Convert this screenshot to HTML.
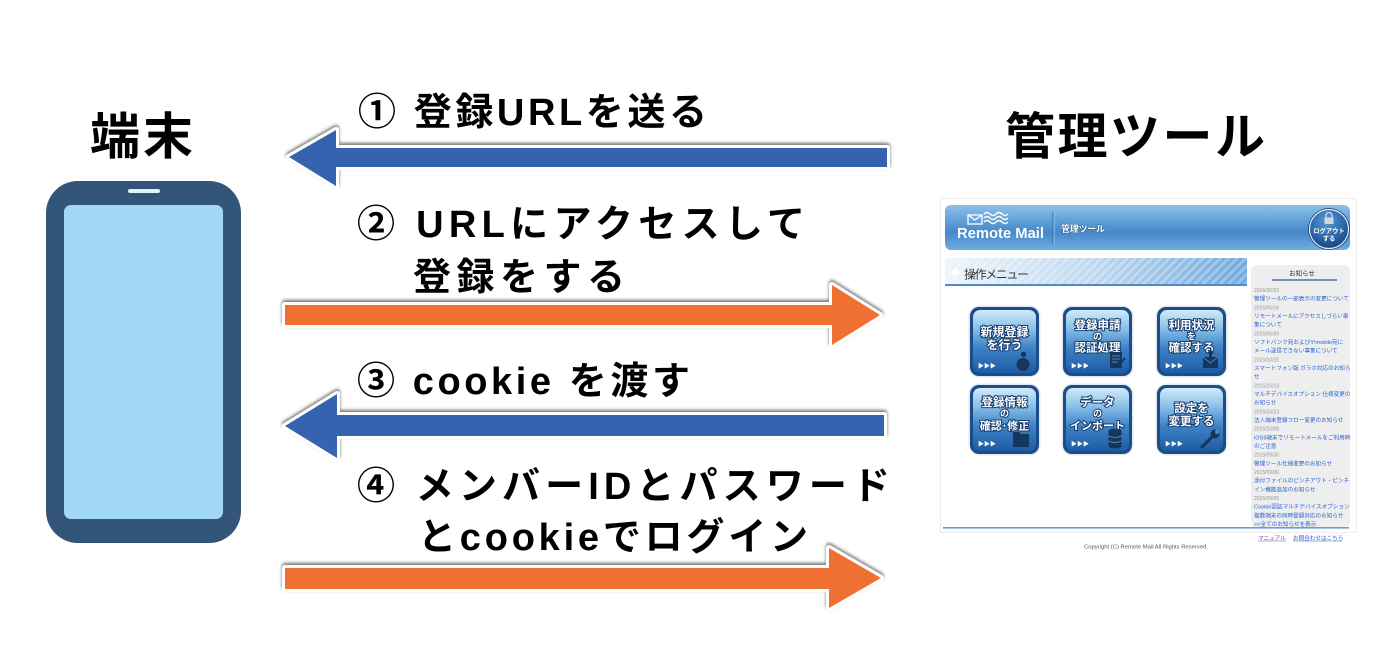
<!DOCTYPE html>
<html><head><meta charset="utf-8">
<style>
html,body{margin:0;padding:0;background:#fff;}
body{width:1386px;height:658px;overflow:hidden;}
svg{display:block;}
.lbl{font-family:"Liberation Sans","Noto Sans CJK JP",sans-serif;font-weight:700;font-size:38px;fill:#000;}
.big{font-family:"Liberation Sans","Noto Sans CJK JP",sans-serif;font-weight:700;font-size:50px;fill:#000;}
.bt{font-family:"Liberation Sans","Noto Sans CJK JP",sans-serif;font-weight:700;fill:#fff;stroke:#163c6e;stroke-width:2;paint-order:stroke;text-anchor:middle;}
.sm{font-family:"Liberation Sans","Noto Sans CJK JP",sans-serif;}
.dt{font-family:"Liberation Sans",sans-serif;font-size:5px;fill:#959595;}
.lk{font-family:"Liberation Sans","Noto Sans CJK JP",sans-serif;font-size:5.6px;fill:#2a64d0;}
</style></head>
<body>
<svg width="1386" height="658" viewBox="0 0 1386 658" xmlns="http://www.w3.org/2000/svg">
<defs>
  <filter id="sh" x="-5%" y="-40%" width="110%" height="180%">
    <feDropShadow dx="0" dy="-2" stdDeviation="1.5" flood-color="#000" flood-opacity="0.55"/>
  </filter>
  <linearGradient id="hdr" x1="0" y1="0" x2="0" y2="1">
    <stop offset="0" stop-color="#8cc2ea"/>
    <stop offset="0.45" stop-color="#5597d2"/>
    <stop offset="0.6" stop-color="#4687c7"/>
    <stop offset="1" stop-color="#6eaee0"/>
  </linearGradient>
  <linearGradient id="menu" x1="0" y1="0" x2="1" y2="0">
    <stop offset="0" stop-color="#eef5fb"/>
    <stop offset="0.5" stop-color="#bcd7ef"/>
    <stop offset="1" stop-color="#6fa8dc"/>
  </linearGradient>
  <pattern id="stripes" width="6" height="6" patternUnits="userSpaceOnUse" patternTransform="rotate(45)">
    <rect x="0" y="0" width="3" height="6" fill="#ffffff" fill-opacity="0.28"/>
  </pattern>
  <linearGradient id="btn" x1="0" y1="0" x2="0" y2="1">
    <stop offset="0" stop-color="#d2ebf9"/>
    <stop offset="0.3" stop-color="#86bfe8"/>
    <stop offset="0.6" stop-color="#3f82c5"/>
    <stop offset="1" stop-color="#1d5ca4"/>
  </linearGradient>
  <radialGradient id="lo" cx="0.45" cy="0.3" r="0.75">
    <stop offset="0" stop-color="#5b9ad6"/>
    <stop offset="0.6" stop-color="#2a66a8"/>
    <stop offset="1" stop-color="#123f78"/>
  </radialGradient>
</defs>

<!-- Phone -->
<rect x="46" y="181" width="195" height="362" rx="32" fill="#33557a"/>
<rect x="64" y="205" width="159" height="314" rx="7" fill="#a0d8f5"/>
<rect x="128" y="189" width="32" height="4" rx="2" fill="#e2f1fa"/>

<!-- Big titles -->
<text class="big" x="90" y="154" textLength="103" lengthAdjust="spacing">端末</text>
<text class="big" x="1005" y="154" textLength="260" lengthAdjust="spacing">管理ツール</text>

<!-- Arrows -->
<g filter="url(#sh)" stroke="#ffffff" stroke-width="6" stroke-linejoin="round" style="paint-order:stroke">
  <polygon fill="#3464af" points="289,157 336,130 336,148 887,148 887,167 336,167 336,186"/>
  <polygon fill="#f07032" points="285,305 832,305 832,285 880,315 832,345 832,325 285,325"/>
  <polygon fill="#3464af" points="285,426 337,394 337,415 884,415 884,436 337,436 337,458"/>
  <polygon fill="#f07032" points="285,568 829,568 829,548 881,578 829,608 829,589 285,589"/>
</g>

<!-- Labels -->
<text class="lbl" x="358" y="125" textLength="349" lengthAdjust="spacing">① 登録URLを送る</text>
<text class="lbl" x="357" y="237" textLength="448" lengthAdjust="spacing">② URLにアクセスして</text>
<text class="lbl" x="413" y="290" textLength="212" lengthAdjust="spacing">登録をする</text>
<text class="lbl" x="357" y="394" textLength="333" lengthAdjust="spacing">③ cookie を渡す</text>
<text class="lbl" x="357" y="499" textLength="533" lengthAdjust="spacing">④ メンバーIDとパスワード</text>
<text class="lbl" x="418" y="550" textLength="390" lengthAdjust="spacing">とcookieでログイン</text>

<!-- ===== Right screenshot panel ===== -->
<rect x="940.5" y="198.5" width="416" height="334" fill="#ffffff" stroke="#ececec" stroke-width="1"/>

<!-- Header -->
<rect x="945" y="205" width="405" height="45" rx="6" fill="url(#hdr)"/>
<g stroke="#ffffff" stroke-width="1.3" fill="none">
  <rect x="968" y="215" width="14" height="9"/>
  <polyline points="968,215 975,220 982,215"/>
  <path d="M984 214 q3 -3 6 0 t6 0 t6 0 t6 0"/>
  <path d="M984 218 q3 -3 6 0 t6 0 t6 0 t6 0"/>
  <path d="M984 222 q3 -3 6 0 t6 0 t6 0 t6 0"/>
</g>
<text class="sm" x="957" y="238" font-size="15" font-weight="700" fill="#ffffff" textLength="87" lengthAdjust="spacingAndGlyphs">Remote Mail</text>
<line x1="1053" y1="212" x2="1053" y2="244" stroke="#2d679f" stroke-width="1"/>
<line x1="1054" y1="212" x2="1054" y2="244" stroke="#9cc8ec" stroke-width="1"/>
<text class="sm" x="1061" y="232" font-size="9" font-weight="700" fill="#ffffff" stroke="#1f4f86" stroke-width="0.8" style="paint-order:stroke" textLength="44" lengthAdjust="spacing">管理ツール</text>
<circle cx="1329" cy="229" r="21" fill="#1a4a86"/>
<circle cx="1329" cy="229" r="19.5" fill="url(#lo)" stroke="#dfeaf5" stroke-width="1.2"/>
<path d="M1326 218 v-2.5 a3 3 0 0 1 6 0 v2.5" fill="none" stroke="#cfd9e4" stroke-width="1.3"/>
<rect x="1324.5" y="217.5" width="9" height="6.5" rx="1" fill="#cfd9e4"/>
<text class="sm" x="1329" y="233" font-size="6.3" font-weight="700" fill="#ffffff" text-anchor="middle">ログアウト</text>
<text class="sm" x="1329" y="240.5" font-size="6.3" font-weight="700" fill="#ffffff" text-anchor="middle">する</text>

<!-- Menu bar -->
<rect x="945" y="258" width="302" height="28" fill="url(#menu)"/>
<rect x="945" y="258" width="302" height="28" fill="url(#stripes)"/>
<rect x="945" y="284" width="302" height="2" fill="#4e8bc8"/>
<polygon points="951,272 955.5,267.5 960,272 955.5,276.5" fill="#ffffff"/>
<text class="sm" x="964" y="278.5" font-size="12" fill="#333333" textLength="65" lengthAdjust="spacing">操作メニュー</text>

<!-- Buttons -->
<g>
  <!-- B1 -->
  <rect x="968.5" y="305.5" width="72" height="72" rx="11" fill="#e3e9ef"/>
  <rect x="970" y="307" width="69" height="69" rx="9" fill="#1b4c8c"/>
  <rect x="973" y="310" width="63" height="63" rx="7" fill="url(#btn)"/>
  <text class="bt" x="1004.5" y="336" font-size="12">新規登録</text>
  <text class="bt" x="1004.5" y="349" font-size="12">を行う</text>
  <text class="sm" x="978" y="368" font-size="6" fill="#ffffff">▶▶▶</text>
  <circle cx="1023.5" cy="354.5" r="2.7" fill="#15365f"/>
  <ellipse cx="1023" cy="364.5" rx="6.5" ry="6.5" fill="#15365f"/>

  <!-- B2 -->
  <rect x="1061.5" y="305.5" width="72" height="72" rx="11" fill="#e3e9ef"/>
  <rect x="1063" y="307" width="69" height="69" rx="9" fill="#1b4c8c"/>
  <rect x="1066" y="310" width="63" height="63" rx="7" fill="url(#btn)"/>
  <text class="bt" x="1097.5" y="329" font-size="11.5">登録申請</text>
  <text class="bt" x="1097.5" y="339.5" font-size="9">の</text>
  <text class="bt" x="1097.5" y="351.5" font-size="11.5">認証処理</text>
  <text class="sm" x="1071" y="368" font-size="6" fill="#ffffff">▶▶▶</text>
  <rect x="1110" y="352" width="12" height="16" fill="#15365f"/>
  <g stroke="#6f95bf" stroke-width="0.8"><line x1="1112" y1="356" x2="1120" y2="356"/><line x1="1112" y1="359" x2="1120" y2="359"/><line x1="1112" y1="362" x2="1118" y2="362"/></g>
  <line x1="1117" y1="368" x2="1125" y2="358" stroke="#15365f" stroke-width="2"/>

  <!-- B3 -->
  <rect x="1155.5" y="305.5" width="72" height="72" rx="11" fill="#e3e9ef"/>
  <rect x="1157" y="307" width="69" height="69" rx="9" fill="#1b4c8c"/>
  <rect x="1160" y="310" width="63" height="63" rx="7" fill="url(#btn)"/>
  <text class="bt" x="1191.5" y="329" font-size="11.5">利用状況</text>
  <text class="bt" x="1191.5" y="339.5" font-size="9">を</text>
  <text class="bt" x="1191.5" y="351.5" font-size="11.5">確認する</text>
  <text class="sm" x="1165" y="368" font-size="6" fill="#ffffff">▶▶▶</text>
  <rect x="1203" y="357" width="15" height="11" fill="#15365f"/>
  <polyline points="1203,357 1210.5,363 1218,357" fill="none" stroke="#6f95bf" stroke-width="0.8"/>
  <polygon points="1210.5,349 1214,353.5 1212,353.5 1212,358 1209,358 1209,353.5 1207,353.5" fill="#15365f"/>

  <!-- B4 -->
  <rect x="968.5" y="383.5" width="72" height="72" rx="11" fill="#e3e9ef"/>
  <rect x="970" y="385" width="69" height="69" rx="9" fill="#1b4c8c"/>
  <rect x="973" y="388" width="63" height="63" rx="7" fill="url(#btn)"/>
  <text class="bt" x="1004.5" y="406" font-size="11.5">登録情報</text>
  <text class="bt" x="1004.5" y="416.5" font-size="9">の</text>
  <text class="bt" x="1004.5" y="429.5" font-size="11">確認･修正</text>
  <text class="sm" x="978" y="446" font-size="6" fill="#ffffff">▶▶▶</text>
  <path d="M1013 432 h6 l2 2 h8 v13 h-16 z" fill="#15365f"/>

  <!-- B5 -->
  <rect x="1061.5" y="383.5" width="72" height="72" rx="11" fill="#e3e9ef"/>
  <rect x="1063" y="385" width="69" height="69" rx="9" fill="#1b4c8c"/>
  <rect x="1066" y="388" width="63" height="63" rx="7" fill="url(#btn)"/>
  <text class="bt" x="1097.5" y="406" font-size="11.5">データ</text>
  <text class="bt" x="1097.5" y="416.5" font-size="9">の</text>
  <text class="bt" x="1097.5" y="429.5" font-size="11">インポート</text>
  <text class="sm" x="1071" y="446" font-size="6" fill="#ffffff">▶▶▶</text>
  <g fill="#15365f">
    <ellipse cx="1115" cy="431" rx="6.5" ry="2.5"/>
    <rect x="1108.5" y="431" width="13" height="15"/>
    <ellipse cx="1115" cy="446" rx="6.5" ry="2.5"/>
  </g>
  <g stroke="#6f95bf" stroke-width="0.8" fill="none"><path d="M1108.5 436 q6.5 3 13 0"/><path d="M1108.5 441 q6.5 3 13 0"/></g>

  <!-- B6 -->
  <rect x="1155.5" y="383.5" width="72" height="72" rx="11" fill="#e3e9ef"/>
  <rect x="1157" y="385" width="69" height="69" rx="9" fill="#1b4c8c"/>
  <rect x="1160" y="388" width="63" height="63" rx="7" fill="url(#btn)"/>
  <text class="bt" x="1191.5" y="412" font-size="11.5">設定を</text>
  <text class="bt" x="1191.5" y="425" font-size="11.5">変更する</text>
  <text class="sm" x="1165" y="446" font-size="6" fill="#ffffff">▶▶▶</text>
  <line x1="1202" y1="447" x2="1213" y2="436" stroke="#15365f" stroke-width="3.2" stroke-linecap="round"/>
  <circle cx="1215" cy="434" r="4.5" fill="#15365f"/>
  <circle cx="1217" cy="432" r="2" fill="#4c8cca"/>
</g>

<!-- Sidebar -->
<rect x="1251" y="265" width="99" height="262" rx="5" fill="#eeeeee"/>
<text class="sm" x="1302" y="275.5" font-size="6.5" fill="#333" text-anchor="middle">お知らせ</text>
<line x1="1272" y1="280" x2="1337" y2="280" stroke="#2a5a99" stroke-width="1.2"/>

<text class="dt" x="1254" y="292">2016/06/22</text>
<text class="lk" x="1254" y="300.7">管理ツールの一部表示の変更について</text>
<text class="dt" x="1254" y="309.3">2016/05/16</text>
<text class="lk" x="1254" y="318">リモートメールにアクセスしづらい事</text>
<text class="lk" x="1254" y="326.7">象について</text>
<text class="dt" x="1254" y="335.4">2016/05/09</text>
<text class="lk" x="1254" y="344">ソフトバンク宛およびY!mobile宛に</text>
<text class="lk" x="1254" y="352.7">メール送信できない事象について</text>
<text class="dt" x="1254" y="361.4">2015/10/15</text>
<text class="lk" x="1254" y="370">スマートフォン版 ガラホ対応のお知ら</text>
<text class="lk" x="1254" y="378.7">せ</text>
<text class="dt" x="1254" y="387.4">2015/10/13</text>
<text class="lk" x="1254" y="396">マルチデバイスオプション 仕様変更の</text>
<text class="lk" x="1254" y="404.7">お知らせ</text>
<text class="dt" x="1254" y="413.4">2015/10/13</text>
<text class="lk" x="1254" y="422">法人端末登録フロー変更のお知らせ</text>
<text class="dt" x="1254" y="430.7">2015/10/08</text>
<text class="lk" x="1254" y="439.4">iOS9端末でリモートメールをご利用時</text>
<text class="lk" x="1254" y="448">のご注意</text>
<text class="dt" x="1254" y="456.7">2015/09/30</text>
<text class="lk" x="1254" y="465.4">管理ツール仕様変更のお知らせ</text>
<text class="dt" x="1254" y="474">2015/09/06</text>
<text class="lk" x="1254" y="482.7">添付ファイルのピンチアウト・ピンチ</text>
<text class="lk" x="1254" y="491.4">イン機能追加のお知らせ</text>
<text class="dt" x="1254" y="500">2015/09/06</text>
<text class="lk" x="1254" y="508.7">Cookie認証マルチデバイスオプション</text>
<text class="lk" x="1254" y="517.4">複数端末の同時登録対応のお知らせ</text>
<text class="lk" x="1254" y="526">&gt;&gt;全てのお知らせを表示</text>

<!-- Footer -->
<rect x="943" y="527" width="406" height="1.6" fill="#6a9dd0"/>
<text class="sm" x="1258" y="540" font-size="5.6" fill="#7a3f9a">マニュアル</text>
<line x1="1258" y1="541" x2="1286" y2="541" stroke="#7a3f9a" stroke-width="0.5"/>
<text class="sm" x="1293" y="540" font-size="5.6" fill="#3355cc">お問合わせはこちら</text>
<line x1="1293" y1="541" x2="1342" y2="541" stroke="#3355cc" stroke-width="0.5"/>
<text class="sm" x="1084" y="548.5" font-size="5.6" fill="#555555" textLength="124" lengthAdjust="spacingAndGlyphs">Copyright (C) Remote Mail All Rights Reserved.</text>
</svg>
</body></html>
